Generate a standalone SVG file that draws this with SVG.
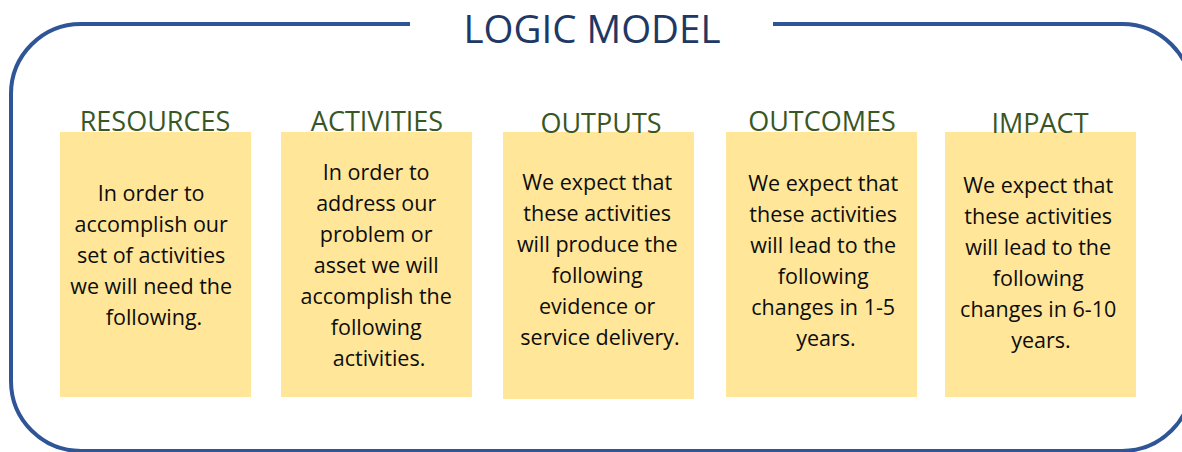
<svg xmlns="http://www.w3.org/2000/svg" width="1182" height="452" viewBox="0 0 1182 452">
  <style>
    .frame { fill: none; stroke: #2F5597; stroke-width: 4; }
    .title { font-family: "Open Sans", "Liberation Sans", sans-serif; font-size: 38.5px; fill: #203864; text-anchor: middle; }
    .head { font-family: "Open Sans", "Liberation Sans", sans-serif; font-size: 27px; fill: #385723; text-anchor: middle; }
    .card { fill: #FFE699; }
    .body { font-family: "Open Sans", "Liberation Sans", sans-serif; font-size: 21.5px; fill: #0d0d0d; text-anchor: middle; }
  </style>

  <!-- outer rounded frame, open at the top around the title -->
  <g id="frame">
    <path class="frame" d="M410,24 H81 A70,70 0 0 0 11,94 V381 A70,70 0 0 0 81,451 H1122 A70,70 0 0 0 1192,381 V94 A70,70 0 0 0 1122,24 H773"/>
    <text class="title" x="592" y="43">LOGIC MODEL</text>
  </g>

  <g id="resources">
    <rect class="card" x="60" y="132" width="191" height="265"/>
    <text class="head" x="155" y="131">RESOURCES</text>
    <text class="body" x="154">
      <tspan x="154" y="201">In order to</tspan>
      <tspan x="154" y="232">accomplish our</tspan>
      <tspan x="154" y="263">set of activities</tspan>
      <tspan x="154" y="294">we will need the</tspan>
      <tspan x="154" y="325">following.</tspan>
    </text>
  </g>

  <g id="activities">
    <rect class="card" x="281" y="132" width="191" height="265"/>
    <text class="head" x="377" y="131">ACTIVITIES</text>
    <text class="body" x="379">
      <tspan x="379" y="180">In order to</tspan>
      <tspan x="379" y="211">address our</tspan>
      <tspan x="379" y="242">problem or</tspan>
      <tspan x="379" y="273">asset we will</tspan>
      <tspan x="379" y="304">accomplish the</tspan>
      <tspan x="379" y="335">following</tspan>
      <tspan x="379" y="366">activities.</tspan>
    </text>
  </g>

  <g id="outputs">
    <rect class="card" x="503" y="132" width="191" height="267"/>
    <text class="head" x="601" y="133">OUTPUTS</text>
    <text class="body" x="600">
      <tspan x="600" y="190">We expect that</tspan>
      <tspan x="600" y="221">these activities</tspan>
      <tspan x="600" y="252">will produce the</tspan>
      <tspan x="600" y="283">following</tspan>
      <tspan x="600" y="314">evidence or</tspan>
      <tspan x="600" y="345">service delivery.</tspan>
    </text>
  </g>

  <g id="outcomes">
    <rect class="card" x="726" y="132" width="191" height="265"/>
    <text class="head" x="822" y="131">OUTCOMES</text>
    <text class="body" x="826">
      <tspan x="826" y="191">We expect that</tspan>
      <tspan x="826" y="222">these activities</tspan>
      <tspan x="826" y="253">will lead to the</tspan>
      <tspan x="826" y="284">following</tspan>
      <tspan x="826" y="315">changes in 1-5</tspan>
      <tspan x="826" y="346">years.</tspan>
    </text>
  </g>

  <g id="impact">
    <rect class="card" x="945" y="132" width="191" height="265"/>
    <text class="head" x="1040" y="133">IMPACT</text>
    <text class="body" x="1041">
      <tspan x="1041" y="193">We expect that</tspan>
      <tspan x="1041" y="224">these activities</tspan>
      <tspan x="1041" y="255">will lead to the</tspan>
      <tspan x="1041" y="286">following</tspan>
      <tspan x="1041" y="317">changes in 6-10</tspan>
      <tspan x="1041" y="348">years.</tspan>
    </text>
  </g>
</svg>
